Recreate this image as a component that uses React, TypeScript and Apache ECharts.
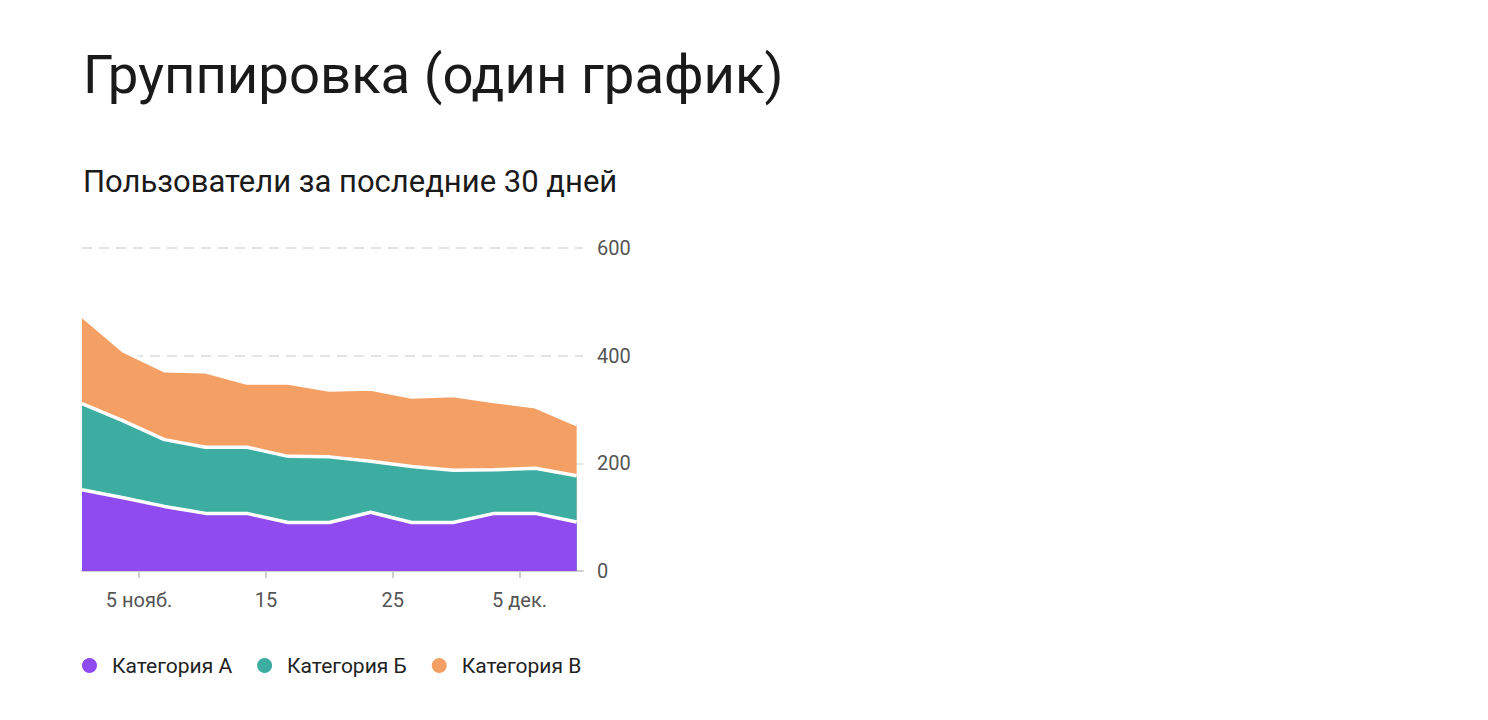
import React, { useEffect, useRef } from 'react';
import * as echarts from 'echarts';

// days counted from 31 Oct (1 = 1 нояб., 31 = 1 дек.)
const xDays: number[] = [0.5, 3.75, 7, 10.25, 13.5, 16.75, 20, 23.25, 26.5, 29.75, 33, 36.25, 39.5];
const catA: number[] = [151, 136, 120, 107, 107, 90, 90, 109, 90, 90, 107, 107, 91];
const catB: number[] = [160, 143, 124, 123, 123, 123, 122, 95, 104, 97, 81, 84, 86];
const catC: number[] = [163, 130, 128, 140, 119, 136, 124, 134, 129, 139, 127, 114, 95];
const seriesNames: string[] = ['Категория А', 'Категория Б', 'Категория В'];
const colors: string[] = ['#8f4bef', '#3dada2', '#f4a064'];
const tickDays: number[] = [5, 15, 25, 35];
const tickLabels: string[] = ['5 нояб.', '15', '25', '5 дек.'];

const FONT = 'Roboto';

const App: React.FC = () => {
  const chartRef = useRef<HTMLDivElement | null>(null);

  useEffect(() => {
    const chart = echarts.init(chartRef.current!, undefined, { renderer: 'svg' });
    const values = [catA, catB, catC];
    // running totals, so every band is an opaque area from zero drawn under the one below it
    const totals = values.map((_, i) =>
      xDays.map((_, j) => values.slice(0, i + 1).reduce((s, arr) => s + arr[j], 0)),
    );

    const option: echarts.EChartsOption = {
      animation: false,
      backgroundColor: '#fff',
      textStyle: { fontFamily: FONT },
      title: [
        {
          text: 'Группировка (один график)',
          left: 83,
          top: 46,
          padding: 0,
          textStyle: { fontFamily: FONT, fontSize: 54.5, fontWeight: 400, color: '#1a1a1a' },
        },
        {
          text: 'Пользователи за последние 30 дней',
          left: 83,
          top: 166,
          padding: 0,
          textStyle: { fontFamily: FONT, fontSize: 31, fontWeight: 400, color: '#1a1a1a' },
        },
      ],
      grid: { left: 82, right: 905, top: 248, bottom: 149 },
      legend: {
        left: 82,
        top: 655,
        padding: 0,
        icon: 'circle',
        itemWidth: 15,
        itemHeight: 15,
        itemGap: 25,
        textStyle: { fontFamily: FONT, fontSize: 21, color: '#222', padding: [0, 0, 0, 10] },
        data: seriesNames,
      },
      xAxis: {
        type: 'value',
        min: 0.5,
        max: 40,
        axisLine: { show: true, lineStyle: { color: '#cfcfcf', width: 2 } },
        axisTick: { show: true, customValues: tickDays, length: 7, lineStyle: { color: '#cfcfcf', width: 2 } },
        axisLabel: {
          customValues: tickDays,
          margin: 19,
          fontSize: 20,
          color: '#555',
          fontFamily: FONT,
          formatter: (v: number) => tickLabels[tickDays.indexOf(v)] ?? '',
        },
        splitLine: { show: false },
      },
      yAxis: {
        type: 'value',
        position: 'right',
        min: 0,
        max: 600,
        interval: 200,
        axisLine: { show: false },
        axisTick: { show: false },
        axisLabel: { margin: 14, fontSize: 20, color: '#555', fontFamily: FONT },
        splitLine: { lineStyle: { color: '#dcdcdc', width: 1.5, type: [10, 7] } },
      },
      series: seriesNames.map((name, i) => ({
        name,
        type: 'line' as const,
        z: 5 - i,
        symbol: 'none',
        color: colors[i],
        lineStyle: { color: '#fff', width: 3.5 },
        areaStyle: { color: colors[i], opacity: 1, origin: 'start' as const },
        data: xDays.map((d, j) => [d, totals[i][j]]),
      })),
    };

    chart.setOption(option);
    return () => chart.dispose();
  }, []);

  return <div ref={chartRef} style={{ width: 1488, height: 720, position: 'fixed', left: 0, top: 0 }} />;
};

export default App;
